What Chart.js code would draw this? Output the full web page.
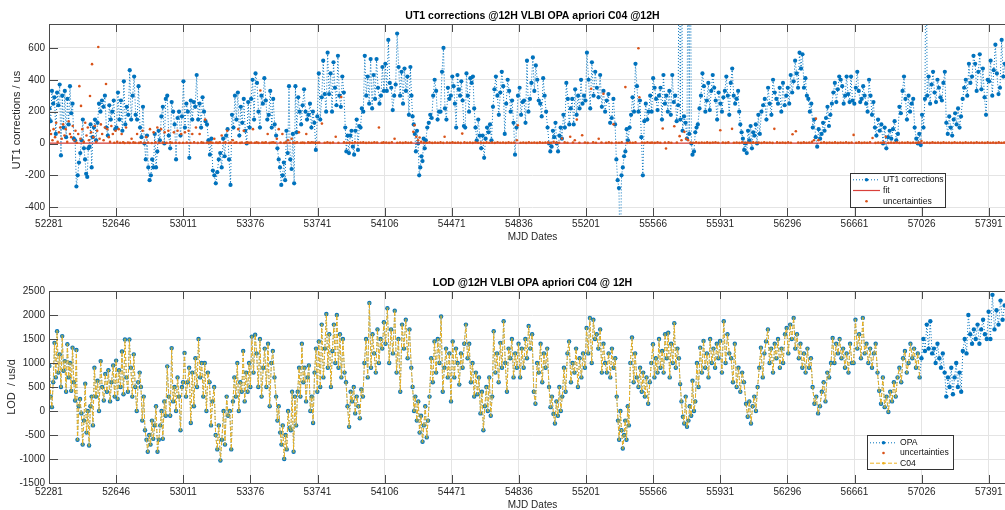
<!DOCTYPE html>
<html>
<head>
<meta charset="utf-8">
<script src="https://cdn.jsdelivr.net/npm/chart.js@4.4.0/dist/chart.umd.min.js"></script>
<style>
html, body { margin: 0; padding: 0; background: #fff; overflow: hidden; width: 1005px; height: 510px; }
#wrap { position: relative; width: 1005px; height: 510px; overflow: hidden; }
canvas { position: absolute; left: 0; }
#ut1 { top: 0; }
#lod { top: 250px; }
</style>
</head>
<body>
<div id="wrap">
  <canvas id="ut1" width="1020" height="250" style="width:1020px;height:250px"></canvas>
  <canvas id="lod" width="1020" height="270" style="width:1020px;height:270px"></canvas>
</div>
<script>
// axis ticks
const xTicks = [52281, 52646, 53011, 53376, 53741, 54106, 54471, 54836, 55201, 55566, 55931, 56296, 56661, 57026, 57391]
const ut1Ticks = [-400, -200, 0, 200, 400, 600]
const lodTicks = [-1500, -1000, -500, 0, 500, 1000, 1500, 2000, 2500]

// UT1 corrections (us)
const ut1Dates = [
  52283,52290,52297,52304,52311,52318,52325,52332,52339,52346,52353,52360,52367,52374,52381,52388,52395,52402,52409,52416,52423,
  52430,52437,52444,52451,52458,52465,
  52471,52477,52483,52489,52495,52501,52507,52513,52519,52525,52531,52537,
  52545,52553,52561,52569,52577,52585,52593,52601,52609,52617,52625,52633,52641,
  52648,52656,52664,52672,52680,52688,52696,52704,52712,52720,52728,52736,52744,52752,52760,52768,52776,52784,52792,52800,
  52807,52814,52821,52828,52835,52842,52849,52856,52863,52870,52877,52884,52892,
  52900,52908,52916,52924,52932,52940,52948,52956,52964,52972,52980,52988,52996,53004,
  53012,53020,53028,53036,53044,53052,53060,53068,53076,53084,53092,53100,53108,53116,53124,53132,53140,53148,
  53156,53164,53172,53180,53188,53196,53204,53212,53220,53228,53236,53244,53252,53260,53268,53276,
  53284,53292,53300,53308,53316,53324,53332,53340,53348,53356,53364,53372,
  53380,53388,53396,53404,53412,53420,53428,53436,53444,53452,53460,53468,53476,53484,53492,53500,53508,
  53516,53523,53530,53537,53544,53551,53558,53565,53572,53579,53586,53593,53600,53607,53614,53621,
  53628,53636,53644,53652,53660,53668,53676,53684,53692,53700,53708,53716,53724,53732,53740,
  53748,53756,53764,53772,53780,53788,53796,53804,53812,53820,53828,53836,53844,53852,53860,
  53868,53876,53884,53892,
  53898,53905,53912,53919,53926,53933,53940,53947,53954,53961,53968,53975,53982,
  53990,53998,54006,54014,54022,54030,54038,54046,54054,54062,54070,54078,54086,54094,54102,
  54110,54118,54126,54134,54142,54150,54158,54166,54174,54182,54190,54198,54206,54214,54222,54230,54238,54246,
  54252,54258,54264,54270,54276,54282,54288,54294,54300,54306,54312,54318,54324,54330,54338,54346,
  54354,54362,54370,54378,54386,54394,54402,54410,54418,54426,54434,54442,54450,54458,54466,
  54474,54481,54488,54495,54502,54509,54516,54523,54530,54537,54544,54551,54558,54565,54572,54579,54586,54593,54600,
  54607,54615,54623,54631,54639,54647,54655,54663,54671,54679,54687,
  54695,54703,54711,54719,54727,54735,54743,54751,54759,54767,54775,54783,54791,54799,54807,54815,54823,54831,
  54840,54848,54856,54864,54872,54880,54888,54896,54904,54912,54920,54928,54936,54944,54952,54960,54968,54976,54984,54992,
  55000,55007,55014,55021,55028,55035,55042,55049,55056,55063,55070,
  55078,55086,55094,55102,55110,55118,55126,55134,55142,55150,55158,55166,55174,55182,55190,55198,
  55206,55215,55224,55233,55242,55251,55260,55269,55278,55287,55296,55305,55314,55323,55332,55341,55350,55359,
  55366,55373,55380,55387,55394,55401,55408,55415,55422,55429,
  55438,55446,55454,55462,55470,55478,55486,55494,55502,55510,55518,55526,55534,55542,55550,55558,
  55566,55574,55582,55590,55598,
  55606,55614,55622,55630,55638,55646,55654,55662,55670,55678,55686,55694,55702,55708,55714,55720,55726,55734,55742,55750,55756,55762,55768,55774,55780,55788,55795,55802,55809,
  55818,55826,55834,55842,55850,55858,55866,55874,55882,55890,55898,55906,55914,55922,
  55932,55940,55948,55956,55964,55972,55980,55988,55996,56004,56012,56020,56028,56034,
  56040,56047,56054,56061,56068,56075,56082,56089,56096,56103,56110,56117,56124,56131,56138,
  56146,56155,56164,56173,56182,56191,56200,56209,56218,56227,56236,56245,56254,56263,56272,56281,56290,
  56298,56306,56314,56322,56330,56338,56346,56354,56362,56370,56378,56386,56394,56402,56410,56418,56426,
  56434,56442,56450,56458,56466,56474,56482,56490,56498,56506,56514,56522,56530,56538,
  56546,56554,56562,56570,56578,56586,56594,56602,56610,56618,56626,56634,56642,56650,
  56660,56668,56676,56684,56692,56700,56708,56716,56724,56732,56740,56748,56756,56764,56772,
  56780,56789,56798,56807,56816,56825,56834,56843,56852,56861,56870,56879,56888,56897,
  56905,56913,56922,56930,56938,56946,56955,56963,56972,56980,56988,56997,57005,57013,57021,
  57028,57036,57044,57050,57056,57064,57072,57080,57088,57096,57104,57112,57120,57128,57136,57144,57152,
  57160,57168,57176,57184,57192,57200,57208,57216,57224,57232,57240,
  57249,57257,57266,57274,57283,57291,57300,57308,57317,57325,57334,57342,57351,57359,57368,57376,57385,
  57393,57401,57410,57418,57427,57435,57444,57452,57461,57470,57478,57490,57500
]
const ut1Values = [
  220,140,330,250,290,60,320,240,370,-75,300,100,330,40,280,120,360,190,250,30,20,
  -270,-200,-120,-60,20,150,
  -30,-100,-190,-210,-30,-20,120,-150,40,100,150,20,
  130,250,200,270,230,300,100,50,240,150,200,270,90,
  100,320,150,270,80,390,120,230,180,460,150,300,420,180,150,360,100,40,230,0,
  -100,50,-150,-230,-200,-100,-150,60,-150,-50,80,20,170,
  230,0,280,300,50,-30,260,200,120,-100,160,200,50,170,
  390,100,250,200,-90,270,150,260,230,430,150,250,100,290,200,140,120,20,
  -70,30,-170,-200,-250,-180,-100,-60,-150,30,-80,50,90,-100,-260,180,
  100,300,150,320,50,230,130,280,80,0,260,100,
  280,400,150,440,380,200,100,300,250,410,270,150,180,330,100,280,120,
  50,-30,-100,-150,-260,-200,-120,-230,80,-60,360,-100,-160,60,-250,360,
  70,290,200,120,240,340,200,150,180,250,100,200,130,-40,170,
  440,150,290,520,310,200,570,310,440,200,510,350,240,550,300,
  230,420,320,100,
  -50,50,-60,50,80,-20,-70,80,150,-40,110,100,220,
  200,550,300,420,250,530,220,430,280,530,350,250,300,480,330,
  500,330,650,380,350,210,300,370,690,480,300,450,250,470,330,420,180,480,
  300,170,120,60,-50,80,0,-200,-150,-80,-110,30,-30,20,100,130,
  180,160,300,400,330,150,200,200,450,600,220,150,350,280,300,
  420,360,250,100,430,340,300,390,270,110,100,440,300,200,410,380,420,220,100,
  20,150,50,-30,50,-90,30,100,70,120,20,
  230,340,420,300,180,320,450,360,60,250,400,330,200,270,130,-70,100,300,
  350,180,260,270,130,520,200,280,380,540,330,490,400,270,250,170,410,300,200,100,
  0,-50,-20,80,40,130,0,-50,50,100,30,
  180,100,380,280,120,220,280,120,340,180,300,220,400,250,300,270,
  570,400,220,510,300,450,350,290,430,230,330,200,270,310,130,160,280,120,
  -100,-230,-280,-800,-200,-150,-80,-50,90,20,
  100,180,290,200,500,360,200,270,40,-200,140,250,150,200,300,200,
  410,350,280,210,300,
  350,150,430,250,300,200,330,180,430,260,300,140,240,1500,150,1500,80,170,130,30,1500,60,1500,0,-70,-50,70,100,120,
  220,300,440,360,200,270,380,210,330,430,350,270,150,320,
  250,200,290,330,420,300,180,380,470,300,250,280,330,200,
  120,70,30,-40,0,-60,80,20,110,-30,70,50,120,0,180,
  60,200,240,280,150,350,250,180,400,320,280,250,350,200,380,240,300,
  350,250,430,320,390,520,440,350,570,470,560,350,410,300,280,200,250,
  100,150,40,-20,90,30,60,130,80,160,230,110,180,250,
  320,380,260,340,420,400,360,250,300,420,310,260,420,270,
  250,350,450,330,260,280,360,300,250,200,400,300,180,260,100,
  50,150,80,120,0,100,-30,40,80,30,90,140,20,60,
  230,190,330,420,280,150,300,200,250,280,100,30,0,60,-10,
  180,100,280,1500,300,420,250,370,450,320,260,400,350,290,270,380,450,
  130,60,170,100,50,150,190,120,220,100,170,
  280,350,400,300,500,380,420,550,500,330,450,560,340,470,290,180,400,
  390,520,300,460,620,440,310,350,650,420,500,380,450
]

// fit line
const fitDates = [52281, 57539]
const fitValues = [2, 2]

// uncertainties (us)
const uncDates = [
  52285,52292,52300,52306,52314,52320,52328,52335,52342,52350,52358,52365,52372,52380,52388,52395,52402,52410,52418,52425,
  52432,52440,52446,52452,52455,52462,52470,52478,52485,52492,52498,52504,52510,52515,52522,52530,52538,52543,52549,52556,
  52563,52570,52578,52585,52591,52598,52606,52613,52620,52628,52636,52643,
  52652,52660,52668,52676,52684,52692,52700,52710,52720,52730,52740,52750,52760,52770,52780,52790,52800,52810,52820,52830,
  52840,52850,52860,52870,52880,52890,52900,52910,52920,52930,52940,52950,52960,52970,52980,52990,53000,53010,
  53020,53030,53040,53050,53060,53070,53080,53090,53100,53110,53120,53130,53140,53150,53160,53170,53180,53190,53200,53210,
  53220,53230,53240,53250,53260,53270,53280,53290,53300,53310,53320,53330,53340,53350,53360,53370,
  53380,53390,53400,53410,53420,53430,53440,53450,53460,53470,53480,53490,53500,53510,53520,53530,53540,53550,53560,53570,
  53580,53590,53600,53610,53620,53630,53640,53650,53660,53670,53680,53690,53700,53710,53720,53730,53740,
  53750,53765,53780,53795,53810,53825,53840,53855,53870,53885,53900,53915,53930,53945,53960,53975,53990,54005,54020,54035,
  54050,54065,54075,54090,54100,
  54115,54130,54145,54160,54175,54190,54205,54220,54235,54250,54262,54269,54278,54288,54296,54305,54320,54335,54350,54365,
  54380,54395,54410,54425,54432,54445,54460,
  54475,54490,54505,54520,54528,54540,54555,54570,54585,54600,54615,54630,54645,54660,54675,54690,54705,54720,54735,54750,
  54765,54780,54795,54810,54825,54830,
  54845,54860,54875,54890,54905,54920,54935,54950,54965,54980,54995,55010,55025,55040,55055,55070,55085,55100,55115,55130,
  55140,55151,55165,55180,55195,
  55210,55229,55240,55255,55270,55285,55296,55310,55325,55340,55350,55365,55380,55395,55415,55425,55440,55455,55470,55486,
  55491,55505,55520,55535,55550,55560,
  55575,55590,55605,55618,55630,55636,55650,55665,55681,55695,55710,55720,55736,55745,55756,55770,55785,55800,55815,55830,
  55845,55860,55875,55890,55905,55920,55931,
  55945,55960,55975,55995,56005,56020,56035,56050,56065,56080,56095,56110,56125,56140,56155,56170,56185,56200,56215,56225,
  56240,56255,56270,56285,
  56300,56315,56324,56342,56355,56370,56385,56400,56415,56430,56440,56451,56465,56480,56495,56510,56525,56540,56555,56570,
  56585,56600,56615,56630,56645,56656,
  56670,56685,56700,56715,56730,56745,56759,56775,56790,56805,56820,56831,56845,56860,56875,56890,56905,56920,56935,56950,
  56965,56980,56995,57010,57025,
  57040,57055,57070,57085,57100,57115,57130,57145,57160,57175,57190,57205,57220,57235,57250,57265,57280,57295,57310,57325,
  57340,57355,57370,57385,
  57400,57415,57430,57445,57460,57475,57490,57505,57520,57535
]
const uncValues = [
  80,60,20,90,40,130,10,70,100,30,120,50,90,10,140,60,40,110,20,80,
  5,60,360,30,236,90,10,130,50,100,20,298,70,498,40,110,10,80,606,30,
  120,60,20,100,373,90,40,10,110,60,5,80,
  10,90,5,60,8,3,100,6,4,30,7,5,60,4,8,80,5,40,6,90,
  3,70,8,100,5,90,6,70,4,80,7,5,70,6,80,4,60,5,
  70,6,80,5,60,8,100,4,60,7,5,150,6,4,8,5,30,6,4,7,
  50,5,8,80,4,6,20,5,7,90,4,6,80,5,7,4,
  6,90,5,8,4,333,6,5,7,60,4,6,8,5,30,90,6,60,4,7,
  20,5,30,6,4,8,70,5,6,4,60,7,5,8,6,4,5,
  6,125,5,8,4,6,42,5,292,7,5,6,4,8,5,6,7,4,6,5,
  8,6,100,5,7,
  6,4,8,30,5,6,4,7,5,6,73,115,42,20,38,10,6,5,8,4,
  6,5,7,4,42,6,5,
  8,5,6,4,62,7,5,6,4,8,5,6,4,7,5,6,4,8,5,6,
  4,7,5,6,20,115,
  5,6,4,8,5,6,4,7,5,6,8,4,10,6,5,31,7,5,42,6,
  20,150,5,52,6,
  4,344,8,5,30,6,312,5,8,4,121,6,5,8,354,4,6,5,7,598,
  290,6,4,8,5,6,
  4,8,5,94,6,-31,7,5,108,6,46,20,73,30,21,6,5,8,4,6,
  5,7,4,6,8,5,83,
  6,4,7,92,5,6,4,8,5,6,4,7,5,6,4,8,5,6,4,92,
  7,5,6,4,
  8,5,58,77,6,4,7,5,6,10,20,156,21,5,8,4,6,5,7,4,
  6,5,8,4,6,54,
  5,7,4,6,5,8,35,4,6,5,7,42,4,6,5,8,4,6,5,7,
  4,6,5,8,15,
  5,6,4,8,5,6,4,7,5,6,4,8,5,6,4,7,5,6,4,8,
  5,6,4,7,
  5,6,4,8,5,6,4,7,5,6
]

// LOD (us/d) from OPA; C04 follows it up to its last date
const lodDates = [
  52283,52290,52297,52304,52311,52318,52325,52332,52339,52346,52353,52360,52367,52374,52381,52388,52395,52402,52409,52416,52423,52430,
  52436,52443,52450,52457,52464,52471,52478,52485,52492,52499,52506,52513,52520,
  52528,52536,52545,52553,52562,52570,52579,52587,52596,52604,52613,52621,52630,
  52638,52646,52654,52662,52670,52678,52686,52694,52702,52710,52718,52726,52734,52742,52750,52758,52766,52774,
  52781,52788,52796,52803,52811,52818,52826,52833,52841,52848,52856,52863,52871,52878,52886,52893,52900,
  52908,52916,52924,52932,52940,52948,52956,52964,52972,52980,52988,52996,53004,53010,
  53018,53026,53035,53043,53052,53060,53069,53077,53086,53094,53103,53111,53120,53128,53137,53145,53154,
  53162,53170,53179,53187,53196,53204,53213,53221,53230,53238,53247,53255,53264,53272,53281,
  53289,53297,53305,53313,53321,53329,53337,53345,53353,53361,53369,53376,
  53384,53393,53402,53410,53419,53428,53437,53446,53454,53463,53472,53481,53490,53498,53507,53516,
  53523,53530,53538,53545,53552,53560,53567,53574,53581,53589,53596,53603,53611,53618,53625,
  53633,53641,53648,53656,53664,53671,53679,53687,53694,53702,53710,53717,53725,53733,53740,
  53748,53756,53764,53773,53781,53789,53797,53805,53814,53822,53830,53838,53846,53855,53863,53871,53879,53888,
  53896,53904,53913,53921,53929,53938,53946,53954,53963,53971,53979,53988,
  53996,54005,54014,54023,54032,54040,54049,54058,54067,54075,54084,54093,54102,
  54111,54121,54131,54141,54151,54161,54171,54181,54191,54201,54211,54221,54231,54241,54251,
  54258,54266,54273,54281,54289,54296,54304,54312,54319,54327,54335,54342,54350,
  54359,54368,54377,54386,54395,54404,54413,54422,54431,54440,54449,54458,54467,
  54476,54485,54494,54503,54512,54521,54530,54539,54548,54557,54566,54575,54584,54593,54602,
  54611,54619,54627,54635,54643,54651,54659,54667,54675,54683,54691,
  54699,54708,54717,54726,54735,54744,54753,54762,54771,54780,54789,54798,54807,54816,54825,54834,
  54843,54852,54862,54871,54880,54889,54898,54908,54917,54926,54935,54944,54954,54963,54972,54981,54990,55000,
  55008,55016,55024,55032,55040,55048,55056,55064,55072,
  55081,55090,55100,55109,55119,55128,55138,55147,55157,55166,55176,55185,55195,
  55204,55213,55222,55232,55241,55250,55259,55268,55278,55287,55296,55305,55314,55324,55333,55342,55351,55360,
  55368,55375,55381,55388,55394,55401,55408,55414,55421,55428,55434,
  55442,55451,55460,55468,55477,55486,55495,55504,55512,55521,55530,55539,55548,55556,
  55565,55573,55581,55590,55598,55606,55615,55623,55631,55640,55648,55656,55664,55673,55681,55689,55698,55706,
  55713,55720,55728,55735,55743,55750,55758,55765,55773,55780,55788,55795,
  55804,55813,55822,55831,55840,55849,55858,55867,55876,55885,55894,55903,55912,55921,
  55930,55940,55950,55960,55970,55980,55990,56000,56010,56020,56030,56040,56050,56060,
  56071,56080,56089,56098,56107,56116,56125,56134,
  56143,56152,56162,56171,56180,56190,56199,56208,56218,56227,56236,56245,56255,56264,56273,56283,
  56292,56301,56311,56320,56330,56339,56348,56358,56367,56377,56386,56395,56405,56414,56424,
  56433,56443,56453,56463,56473,56483,56493,56503,56513,56523,56533,
  56542,56552,56561,56571,56580,56590,56599,56609,56618,56628,56637,56647,
  56656,56666,56676,56686,56696,56706,56716,56726,56736,56746,56756,56766,56776,56786,
  56795,56805,56815,56825,56835,56845,56855,56865,56875,56885,56895,
  56905,56915,56925,56935,56945,56955,56965,56975,56985,56995,57005,57015,
  57025,57035,57044,57054,57064,57073,57083,57093,57102,57112,57122,57131,57141,57151,
  57160,57169,57178,57187,57196,57205,57214,57223,57232,57241,
  57250,57260,57270,57280,57290,57300,57310,57320,57330,57340,57350,57360,57370,57380,
  57390,57400,57411,57422,57433,57444,57455,57466,57477,57490
]
const lodValues = [
  940,300,80,600,1420,700,1660,800,1180,500,1560,840,1040,400,1390,700,1000,420,1320,600,220,1270,
  -600,100,250,-50,-700,-200,570,-450,0,-720,100,300,-300,
  900,300,630,0,1040,500,220,770,400,850,200,600,950,
  300,1050,250,850,500,1240,350,1490,700,400,1490,900,300,1180,500,0,600,800,
  500,-200,300,-400,-600,-850,-500,-700,-200,-580,-300,100,-850,-600,-300,0,-580,
  200,-100,930,300,-100,1310,200,500,0,700,300,-400,500,600,
  1210,300,600,900,-250,800,100,1100,500,1500,700,1000,300,1000,0,800,600,
  -300,200,500,-500,-800,-300,-1030,-600,0,-700,300,-100,0,-800,200,
  700,300,1000,0,600,400,1250,200,800,400,1000,500,
  1550,800,1590,1200,500,1500,300,900,1300,500,1400,100,1000,1250,700,300,
  -200,100,-450,-700,-300,-1000,-500,-800,0,-350,-400,400,-850,300,-300,
  400,900,300,1400,600,900,200,700,950,0,300,-250,800,1300,400,
  1450,500,1800,700,1300,2020,900,1600,500,1250,1800,1000,2000,900,1600,700,1500,800,
  600,100,-330,400,200,500,-50,300,100,-150,450,300,
  1000,1500,700,2250,900,1600,1200,800,1700,1000,1500,1300,1850,
  1400,2140,1000,1700,1200,2090,800,1500,400,1800,1300,1900,1100,1700,900,
  500,0,300,-200,200,-450,-100,-640,-300,100,-550,-200,300,
  1100,600,1450,800,1500,1000,1970,400,900,1300,700,1200,200,
  1450,700,1300,1000,550,1200,900,1400,1800,1100,1400,600,1000,300,800,
  350,700,-50,400,-400,100,500,0,700,-100,300,
  1660,800,1200,600,1420,900,1870,1000,400,1300,1100,1500,700,1200,900,1400,
  700,1300,900,1500,1100,1770,1300,1600,400,150,1000,800,1400,600,1200,900,1300,500,
  80,300,-60,-260,200,-100,500,0,300,
  900,400,1200,1450,600,1000,800,1300,500,1100,700,1200,900,
  1730,1200,1940,1000,1900,1500,1600,1300,1700,800,1400,1000,800,1200,700,1300,900,1100,
  300,-200,-600,0,-400,-780,-500,-200,-600,100,-300,
  1000,1530,600,1200,700,500,900,400,800,300,700,150,600,1000,
  1390,700,1100,800,1500,900,1250,800,1600,1100,1630,700,1400,1000,1830,900,1300,1100,
  560,200,-120,-260,300,-330,-200,100,-100,630,0,200,
  1000,500,1320,800,1460,900,1200,700,1500,1000,1300,900,1400,1100,
  1460,800,1870,1000,1600,1200,1100,600,1400,500,900,400,800,600,
  150,-120,200,-260,100,300,0,500,
  900,1320,700,1200,1450,1700,1000,1300,800,1400,1100,1500,900,1300,1000,1600,
  1730,1200,1800,1500,1940,1300,1600,1100,1400,900,1200,800,1300,900,1100,
  500,150,300,-50,100,400,600,200,800,700,1000,
  1520,1000,1400,1200,1500,1100,1300,900,1200,800,1400,1000,
  1000,1900,1300,1600,1100,1940,1200,1400,1000,1300,900,1200,1400,800,
  420,150,700,80,300,-20,400,200,600,300,700,
  900,600,1100,1250,800,1000,1400,1100,1300,900,1200,700,
  1100,1500,1250,1800,1300,1870,1200,1300,1000,1400,1100,900,1200,800,
  300,700,500,900,350,700,1000,500,800,400,
  1250,1500,1200,2000,1600,1400,1700,1500,1800,1400,1700,1900,1600,1500,
  2070,1500,2420,1700,2100,1800,2300,1900,2200,2000
]
const c04LastDate = 57015
// no LOD uncertainties are visible in the panel
const lodUncDates = []
const lodUncValues = []

const FONT = '"Liberation Sans", Arial, Helvetica, sans-serif'
Chart.defaults.font.family = FONT
Chart.defaults.font.size = 10
Chart.defaults.color = '#262626'

const BLUE = '#0072BD'
const ORANGE = '#D95319'
const YELLOW = '#EDB120'

function pts(xs, ys) {
    return xs.map((x, i) => ({x: x, y: ys[i]}))
}

// box, inward ticks (drawn over the data like matlab's axes)
const frame = {
    id: 'frame',
    afterDatasetsDraw(chart) {
        const {ctx, chartArea: a, scales} = chart
        ctx.save()
        ctx.strokeStyle = '#4a4a4a'
        ctx.lineWidth = 1
        ctx.beginPath()
        scales.x.ticks.forEach(t => {
            const px = Math.round(scales.x.getPixelForValue(t.value)) + 0.5
            ctx.moveTo(px, a.bottom); ctx.lineTo(px, a.bottom - 8)
            ctx.moveTo(px, a.top); ctx.lineTo(px, a.top + 8)
        })
        scales.y.ticks.forEach(t => {
            const py = Math.round(scales.y.getPixelForValue(t.value)) + 0.5
            ctx.moveTo(a.left, py); ctx.lineTo(a.left + 9, py)
            ctx.moveTo(a.right, py); ctx.lineTo(a.right - 9, py)
        })
        ctx.stroke()
        ctx.strokeRect(Math.round(a.left) + 0.5, Math.round(a.top) + 0.5, Math.round(a.right - a.left), Math.round(a.bottom - a.top))
        ctx.restore()
    }
}

// legend box inside the axes, lower right
const boxLegend = {
    id: 'boxLegend',
    afterDraw(chart, args, o) {
        const ctx = chart.ctx
        ctx.save()
        ctx.fillStyle = '#fff'
        ctx.fillRect(o.x, o.y, o.w, o.h)
        ctx.strokeStyle = '#333'
        ctx.lineWidth = 1
        ctx.setLineDash([])
        ctx.strokeRect(o.x + 0.5, o.y + 0.5, o.w, o.h)
        ctx.font = '8.6px ' + FONT
        ctx.textBaseline = 'middle'
        chart.data.datasets.forEach((ds, i) => {
            const y = o.y + o.first + i * o.step
            const x0 = o.x + 3, x1 = x0 + 27
            if (ds.showLine) {
                ctx.strokeStyle = ds.borderColor
                ctx.lineWidth = ds.borderWidth
                ctx.setLineDash(ds.borderDash || [])
                ctx.beginPath()
                ctx.moveTo(x0, y + 0.5); ctx.lineTo(x1, y + 0.5)
                ctx.stroke()
                ctx.setLineDash([])
            }
            if (ds.pointRadius > 0) {
                ctx.fillStyle = ds.legendDot || ds.pointBackgroundColor
                ctx.beginPath()
                ctx.arc((x0 + x1) / 2, y + 0.5, Math.min(ds.pointRadius, 1.8), 0, Math.PI * 2)
                ctx.fill()
            }
            ctx.fillStyle = '#111'
            ctx.fillText(ds.label, x1 + 3, y + 0.5)
        })
        ctx.restore()
    }
}

function scalesFor(s) {
    return {
        x: {
            type: 'linear', min: 52281, max: 57539,
            afterBuildTicks: sc => { sc.ticks = xTicks.map(v => ({value: v})) },
            afterFit: sc => { sc.height = s.xHeight },
            ticks: {padding: s.xTickPad, maxRotation: 0, autoSkip: false, callback: v => String(v)},
            grid: {color: '#e4e4e4', drawTicks: false},
            border: {display: false},
            title: {display: true, text: 'MJD Dates', font: {size: 10}, padding: {top: 0, bottom: s.xTitlePad}}
        },
        y: {
            min: s.yMin, max: s.yMax,
            afterBuildTicks: sc => { sc.ticks = s.yTicks.map(v => ({value: v})) },
            afterFit: sc => { sc.width = 49 },
            ticks: {padding: 4, callback: v => String(v)},
            grid: {color: '#e4e4e4', drawTicks: false},
            border: {display: false},
            title: {display: true, text: s.yTitle, font: {size: 11}, padding: {top: s.yTitlePad, bottom: 0}}
        }
    }
}

function baseOptions(s) {
    return {
        responsive: false,
        animation: false,
        devicePixelRatio: 1,
        events: [],
        layout: {padding: {left: 0, right: 3, top: 0, bottom: 0}},
        scales: scalesFor(s),
        plugins: {
            legend: {display: false},
            tooltip: {enabled: false},
            title: {
                display: true, text: s.title, fullSize: false, color: '#000',
                font: {size: 10.5, weight: 'bold'},
                padding: {top: s.titleTop, bottom: s.titleBottom}
            },
            boxLegend: s.legend
        }
    }
}

new Chart(document.getElementById('ut1'), {
    type: 'scatter',
    data: {
        datasets: [
            {label: 'UT1 corrections', data: pts(ut1Dates, ut1Values), showLine: true, order: 3, clip: 0,
             borderColor: BLUE, borderWidth: 1, borderDash: [1, 2],
             pointRadius: 2.1, pointBackgroundColor: BLUE, pointBorderWidth: 0},
            {label: 'fit', data: pts(fitDates, fitValues), showLine: true, order: 2, clip: 0,
             borderColor: '#D9403A', borderWidth: 1.2, pointRadius: 0},
            {label: 'uncertainties', data: pts(uncDates, uncValues), showLine: false, order: 1, clip: 0,
             pointRadius: 1.3, pointBackgroundColor: ORANGE, pointBorderWidth: 0}
        ]
    },
    options: baseOptions({
        title: 'UT1 corrections @12H VLBI OPA apriori C04 @12H', titleTop: 9.4, titleBottom: 2,
        yMin: -455, yMax: 750, yTicks: ut1Ticks, yTitle: 'UT1 corrections / us', yTitlePad: 10,
        xHeight: 34, xTickPad: 2, xTitlePad: 7,
        legend: {x: 850, y: 173, w: 95, h: 34, first: 6.3, step: 10.7}
    }),
    plugins: [frame, boxLegend]
})

const c04Dates = lodDates.filter(d => d <= c04LastDate)
const c04Values = lodValues.slice(0, c04Dates.length)

new Chart(document.getElementById('lod'), {
    type: 'scatter',
    data: {
        datasets: [
            {label: 'OPA', data: pts(lodDates, lodValues), showLine: true, order: 3, clip: 0,
             borderColor: BLUE, borderWidth: 1, borderDash: [1, 2],
             pointRadius: 2.2, pointBackgroundColor: BLUE, pointBorderWidth: 0},
            {label: 'uncertainties', data: pts(lodUncDates, lodUncValues), showLine: false, order: 2, clip: 0,
             pointRadius: 1.3, pointBackgroundColor: ORANGE, pointBorderWidth: 0},
            {label: 'C04', data: pts(c04Dates, c04Values), showLine: true, order: 1, clip: 0,
             borderColor: YELLOW, borderWidth: 1, borderDash: [4, 2],
             pointRadius: 1.3, pointBackgroundColor: 'rgba(170,175,80,0.75)', pointBorderWidth: 0,
             legendDot: YELLOW}
        ]
    },
    options: baseOptions({
        title: 'LOD @12H VLBI OPA apriori C04 @ 12H', titleTop: 26.4, titleBottom: 2,
        yMin: -1500, yMax: 2500, yTicks: lodTicks, yTitle: 'LOD  / us/d', yTitlePad: 5.5,
        xHeight: 37, xTickPad: 3, xTitlePad: 9,
        legend: {x: 867, y: 185, w: 86, h: 34, first: 7.3, step: 10.2}
    }),
    plugins: [frame, boxLegend]
})
</script>
</body>
</html>
